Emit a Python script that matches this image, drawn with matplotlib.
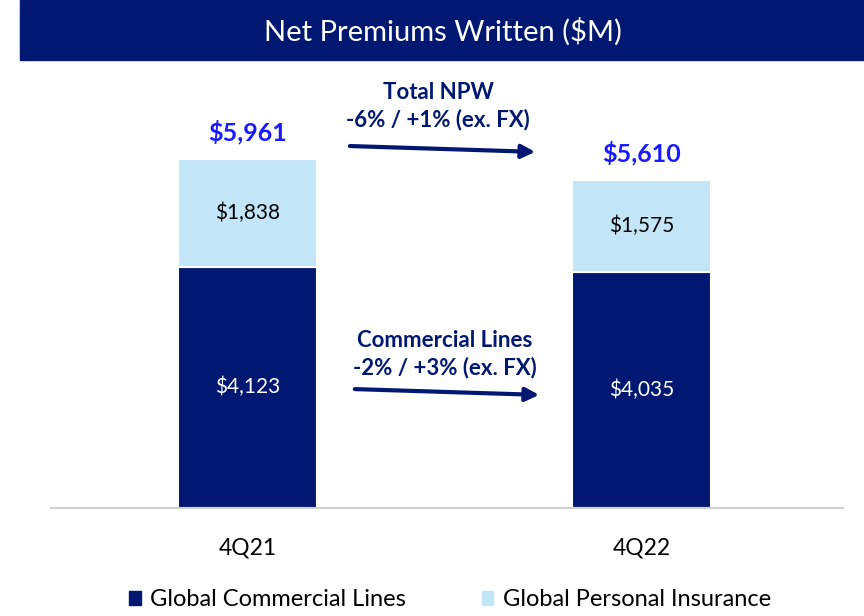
import matplotlib
matplotlib.use('Agg')
import matplotlib.pyplot as plt
from matplotlib.patches import Rectangle, Patch

plt.rcParams['font.family'] = ['Lato', 'DejaVu Sans']

quarters = ['4Q21', '4Q22']
commercial = [4123, 4035]
personal = [1838, 1575]
totals = [5961, 5610]
seg_names = ['Global Commercial Lines', 'Global Personal Insurance']

navy = '#001871'
light = '#c2e6f7'
blue_total = '#1a1aff'

fig = plt.figure(figsize=(8.64, 6.16), dpi=100)

# title banner
fig.patches.append(Rectangle((20 / 864, 556 / 616), 1 - 20 / 864, 60 / 616,
                             transform=fig.transFigure, color=navy, zorder=0))
fig.text(443 / 864, 584 / 616, 'Net Premiums Written ($M)', color='white',
         fontsize=21, ha='center', va='center')

ax = fig.add_axes([51 / 864, 108 / 616, 792 / 864, 438 / 616])
x = list(range(len(quarters)))
w = 0.353
ax.bar(x, commercial, w, color=navy, edgecolor='white', linewidth=1.5)
ax.bar(x, personal, w, bottom=commercial, color=light, edgecolor='white', linewidth=1.5)

for i in x:
    ax.text(i, commercial[i] / 2, f'${commercial[i]:,}', color='white',
            ha='center', va='center', fontsize=15)
    ax.text(i, commercial[i] + personal[i] / 2, f'${personal[i]:,}', color='black',
            ha='center', va='center', fontsize=15)
    ax.annotate(f'${totals[i]:,}', (i, totals[i]), xytext=(0, 19),
                textcoords='offset points', ha='center', va='center',
                color=blue_total, fontsize=18, fontweight='bold')

ax.set_xlim(-0.499, 1.511)
ax.set_ylim(0, 7480)

# change arrows
ax.annotate('', xy=(0.737, 6080), xytext=(0.2525, 6183),
            arrowprops=dict(arrowstyle='-|>,head_length=0.8,head_width=0.4',
                            color=navy, lw=3))
ax.text(0.484, 6866, 'Total NPW\n-6% / +1% (ex. FX)', color=navy, fontsize=16,
        fontweight='bold', ha='center', va='center', linespacing=1.3)
ax.annotate('', xy=(0.747, 1930), xytext=(0.265, 2032),
            arrowprops=dict(arrowstyle='-|>,head_length=0.8,head_width=0.4',
                            color=navy, lw=3))
ax.text(0.5, 2630, 'Commercial Lines\n-2% / +3% (ex. FX)', color=navy, fontsize=16,
        fontweight='bold', ha='center', va='center', linespacing=1.3)

for s in ['top', 'right', 'left']:
    ax.spines[s].set_visible(False)
ax.spines['bottom'].set_color('#d0d0d0')
ax.spines['bottom'].set_linewidth(1.5)
ax.set_yticks([])
ax.set_xticks(x)
ax.set_xticklabels(quarters, fontsize=16.5)
ax.tick_params(axis='x', length=0, pad=21)

handles = [Patch(color=navy), Patch(color=light)]
fig.legend(handles, seg_names, loc='center', bbox_to_anchor=(450 / 864, 16 / 616),
           ncol=2, frameon=False, fontsize=17, handlelength=0.5, handleheight=0.5,
           handletextpad=0.4, columnspacing=3.2)

fig.savefig('out.png', dpi=100)
